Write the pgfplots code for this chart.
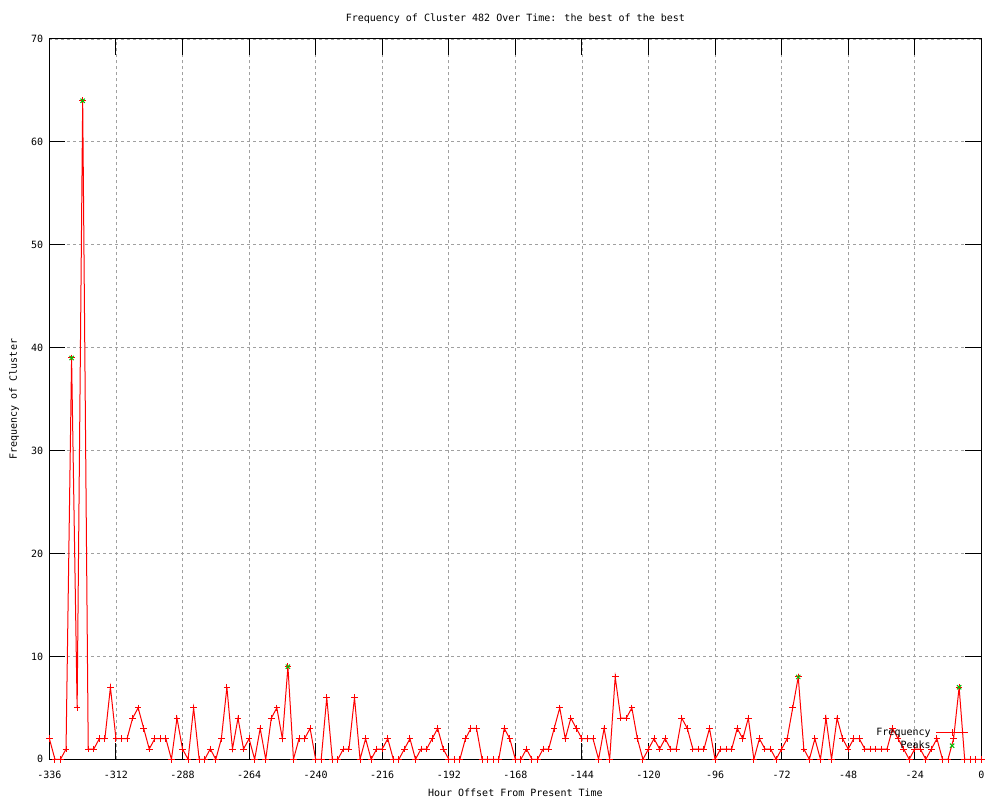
\documentclass[border=0pt]{standalone}
\usepackage{pgfplots}
\usepackage{pgfplotstable}
\pgfplotsset{compat=1.18}
\usepackage{fontspec}
\setmainfont{DejaVu Sans Mono}
\definecolor{gpred}{RGB}{255,0,0}
\definecolor{gpgreen}{RGB}{0,192,0}
\definecolor{gpgrid}{RGB}{160,160,160}
\pgfplotstableread{
h v
-336 2
-334 0
-332 0
-330 1
-328 39
-326 5
-324 64
-322 1
-320 1
-318 2
-316 2
-314 7
-312 2
-310 2
-308 2
-306 4
-304 5
-302 3
-300 1
-298 2
-296 2
-294 2
-292 0
-290 4
-288 1
-286 0
-284 5
-282 0
-280 0
-278 1
-276 0
-274 2
-272 7
-270 1
-268 4
-266 1
-264 2
-262 0
-260 3
-258 0
-256 4
-254 5
-252 2
-250 9
-248 0
-246 2
-244 2
-242 3
-240 0
-238 0
-236 6
-234 0
-232 0
-230 1
-228 1
-226 6
-224 0
-222 2
-220 0
-218 1
-216 1
-214 2
-212 0
-210 0
-208 1
-206 2
-204 0
-202 1
-200 1
-198 2
-196 3
-194 1
-192 0
-190 0
-188 0
-186 2
-184 3
-182 3
-180 0
-178 0
-176 0
-174 0
-172 3
-170 2
-168 0
-166 0
-164 1
-162 0
-160 0
-158 1
-156 1
-154 3
-152 5
-150 2
-148 4
-146 3
-144 2
-142 2
-140 2
-138 0
-136 3
-134 0
-132 8
-130 4
-128 4
-126 5
-124 2
-122 0
-120 1
-118 2
-116 1
-114 2
-112 1
-110 1
-108 4
-106 3
-104 1
-102 1
-100 1
-98 3
-96 0
-94 1
-92 1
-90 1
-88 3
-86 2
-84 4
-82 0
-80 2
-78 1
-76 1
-74 0
-72 1
-70 2
-68 5
-66 8
-64 1
-62 0
-60 2
-58 0
-56 4
-54 0
-52 4
-50 2
-48 1
-46 2
-44 2
-42 1
-40 1
-38 1
-36 1
-34 1
-32 3
-30 2
-28 1
-26 0
-24 1
-22 1
-20 0
-18 1
-16 2
-14 0
-12 0
-10 2
-8 7
-6 0
-4 0
-2 0
0 0
}\freqdata
\pgfplotstableread{
h v
-328 39
-324 64
-250 9
-66 8
-8 7
}\peakdata
\begin{document}
\begin{tikzpicture}
\useasboundingbox (0bp,0bp) rectangle (1000bp,800bp);
\begin{axis}[
  at={(49.4bp,40.7bp)}, anchor=south west,
  scale only axis, width=931.9bp, height=720.3bp,
  xmin=-336, xmax=0, ymin=0, ymax=70,
  xtick={-336,-312,-288,-264,-240,-216,-192,-168,-144,-120,-96,-72,-48,-24,0},
  xticklabels={-336,-312,-288,-264,-240,-216,-192,-168,-144,-120,-96,-72,-48,-24,0},
  ytick={0,10,20,30,40,50,60,70},
  yticklabels={0,10,20,30,40,50,60,70},
  tick align=inside,
  major tick length=16bp,
  tick style={black, line width=1bp},
  axis line style={black, line width=1bp},
  grid=major,
  major grid style={gpgrid, line width=0.8bp, dash pattern=on 3bp off 3bp},
  font=\fontsize{10bp}{12bp}\selectfont,
  xticklabel style={anchor=base, yshift=-19.5bp, inner sep=0pt},
  yticklabel style={anchor=east, xshift=-6bp, inner sep=0pt},
  title={Frequency of Cluster 482 Over Time: the best of the best},
  title style={at={(axis description cs:0.5,1)}, anchor=base, yshift=12bp, inner sep=0pt},
  xlabel={Hour Offset From Present Time},
  xlabel style={at={(axis description cs:0.5,-0.0523)}, anchor=base, inner sep=0pt},
  ylabel={Frequency of Cluster},
  ylabel style={at={(axis description cs:-0.038,0.5)}, anchor=center, rotate=0, inner sep=0pt},
  legend plot pos=right,
  legend cell align=right,
  legend image code/.code={\draw[mark repeat=2,mark phase=2,#1] plot coordinates {(0bp,0bp) (16bp,0bp) (32bp,0bp)};},
  legend style={draw=none, fill=none, at={(axis cs:-4.5,3.14)}, anchor=north east,
    inner sep=0pt, row sep=2bp, column sep=5bp,
    nodes={inner sep=0pt, text height=8bp, text depth=3bp},
    font=\fontsize{10bp}{12bp}\selectfont},
]
\addplot[gpred, line width=1bp, mark=+, mark size=3.3bp, mark options={solid}] table[x=h, y=v] {\freqdata};
\addlegendentry{Frequency}
\addplot[gpgreen, only marks, line width=1bp, mark=x, mark size=3bp] table[x=h, y=v] {\peakdata};
\addlegendentry{Peaks}
\end{axis}
\end{tikzpicture}
\end{document}
